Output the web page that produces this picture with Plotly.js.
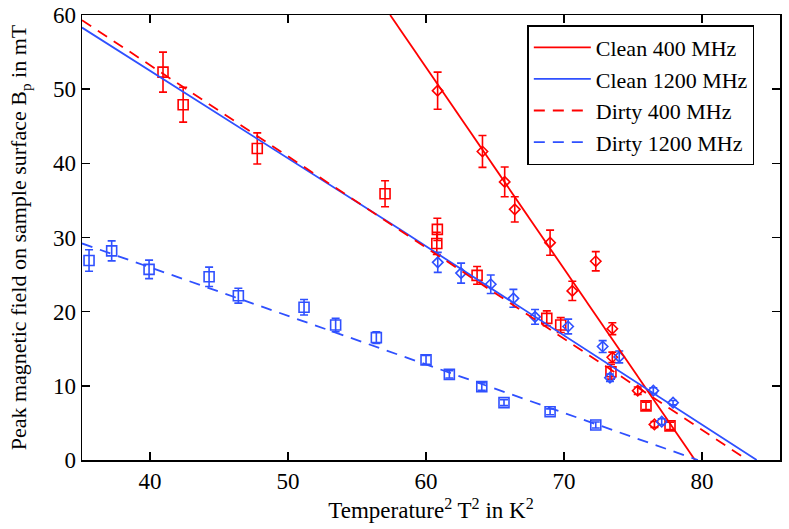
<!DOCTYPE html>
<html>
<head>
<meta charset="utf-8">
<script src="https://cdn.plot.ly/plotly-3.0.1.min.js"></script>
<style>
  body { margin: 0; background: #fff; }
  #chart { width: 789px; height: 529px; }
</style>
</head>
<body>
<div id="chart"></div>
<script>
const dirty400X = [40.94, 42.4, 47.77, 57.03, 60.82, 60.78, 63.7, 68.75, 69.76, 73.4, 75.94, 77.68];
const dirty400Y = [52.3, 47.9, 42.0, 35.9, 31.1, 29.2, 24.9, 19.1, 18.2, 11.9, 7.3, 4.6];
const dirty400Err = [2.7, 2.35, 2.1, 1.75, 1.5, 1.5, 1.2, 1.0, 1.0, 1.0, 0.5, 0.5];

const clean400X = [60.84, 64.09, 65.7, 66.43, 68.99, 70.6, 72.3, 73.5, 73.5, 75.34, 76.55];
const clean400Y = [49.8, 41.6, 37.5, 33.8, 29.3, 22.8, 26.8, 17.7, 13.85, 9.35, 4.8];
const clean400Err = [2.5, 2.15, 2.0, 1.7, 1.7, 1.3, 1.3, 0.8, 0.7, 0.5, 0.4];

const clean1200X = [60.85, 62.54, 64.69, 66.33, 67.9, 70.3, 72.8, 73.33, 74.0, 76.47, 77.08, 77.9];
const clean1200Y = [26.65, 25.2, 23.7, 21.8, 19.3, 18.0, 15.3, 11.1, 13.9, 9.35, 5.17, 7.73];
const clean1200Err = [1.35, 1.35, 1.25, 1.2, 1.0, 1.0, 0.8, 0.5, 0.8, 0.4, 0.4, 0.3];

const dirty1200X = [35.58, 37.22, 39.93, 44.28, 46.4, 51.16, 53.45, 56.4, 60.0, 61.69, 64.04, 65.65, 68.99, 72.3];
const dirty1200Y = [26.9, 28.2, 25.7, 24.7, 22.15, 20.6, 18.2, 16.5, 13.5, 11.55, 9.9, 7.73, 6.5, 4.72];
const dirty1200Err = [1.45, 1.35, 1.25, 1.3, 1.0, 1.05, 0.9, 0.8, 0.6, 0.5, 0.5, 0.4, 0.4, 0.4];

// fitted curves
const clean400FitX = [57.4, 79.49];
const clean400FitY = [60, 0];
const clean1200FitX = [35.07, 58.1, 83.96];
const clean1200FitY = [58.3, 31.1, 0];
const dirty400FitX = [35.07, 83.3];
const dirty400FitY = [59.3, 0];
const dirty1200FitX = [35.07, 79.7];
const dirty1200FitY = [29.2, 0];

const xTicks = [40, 50, 60, 70, 80];
const yTicks = [0, 10, 20, 30, 40, 50, 60];

const RED = "#ff0000";
const BLUE = "#2f50ff";
const FONT = "Liberation Serif, Times New Roman, serif";

function fit(x, y, name, color, dash) {
    return {
        x: x, y: y, name: name, type: "scatter", mode: "lines",
        line: { color: color, width: 1.8, dash: dash }
    };
}

function points(x, y, err, color, symbol, size) {
    return {
        x: x, y: y, type: "scatter", mode: "markers", showlegend: false,
        marker: { symbol: symbol, size: size, color: color, line: { color: color, width: 1.6 } },
        error_y: { type: "data", array: err, visible: true, color: color, thickness: 1.6, width: 4 }
    };
}

const traces = [
    points(dirty400X, dirty400Y, dirty400Err, RED, "square-open", 10),
    points(clean400X, clean400Y, clean400Err, RED, "diamond-open", 8),
    points(dirty1200X, dirty1200Y, dirty1200Err, BLUE, "square-open", 10),
    points(clean1200X, clean1200Y, clean1200Err, BLUE, "diamond-open", 8),
    fit(clean400FitX, clean400FitY, "Clean 400 MHz", RED, "solid"),
    fit(clean1200FitX, clean1200FitY, "Clean 1200 MHz", BLUE, "solid"),
    fit(dirty400FitX, dirty400FitY, "Dirty 400 MHz", RED, "11px,8px"),
    fit(dirty1200FitX, dirty1200FitY, "Dirty 1200 MHz", BLUE, "11px,8px")
];

const axisCommon = {
    showgrid: false, zeroline: false,
    showline: true, linecolor: "#000", linewidth: 1.5, mirror: "ticks",
    ticks: "inside", ticklen: 8, tickwidth: 1.5, tickcolor: "#000",
    tickfont: { family: FONT, size: 23, color: "#000" }
};

const layout = {
    width: 789, height: 529,
    margin: { l: 82, r: 9, t: 15, b: 69 },
    paper_bgcolor: "#fff", plot_bgcolor: "#fff",
    font: { family: FONT, size: 23, color: "#000" },
    xaxis: Object.assign({}, axisCommon, {
        range: [35.07, 85.65], tickvals: xTicks,
        title: { text: "Temperature<sup>2</sup> T<sup>2</sup> in K<sup>2</sup>", font: { family: FONT, size: 23 }, standoff: 9 }
    }),
    yaxis: Object.assign({}, axisCommon, {
        range: [0, 60], tickvals: yTicks,
        title: { text: "Peak magnetic field on sample surface B<sub>p</sub> in mT", font: { family: FONT, size: 22 }, standoff: 20 }
    }),
    legend: {
        x: 0.638, y: 0.9775, xanchor: "left", yanchor: "top",
        bgcolor: "#fff", bordercolor: "#000", borderwidth: 1.5,
        font: { family: FONT, size: 22, color: "#000" },
        itemwidth: 57
    },
    showlegend: true
};

Plotly.newPlot("chart", traces, layout, { displayModeBar: false, staticPlot: true });
</script>
</body>
</html>
